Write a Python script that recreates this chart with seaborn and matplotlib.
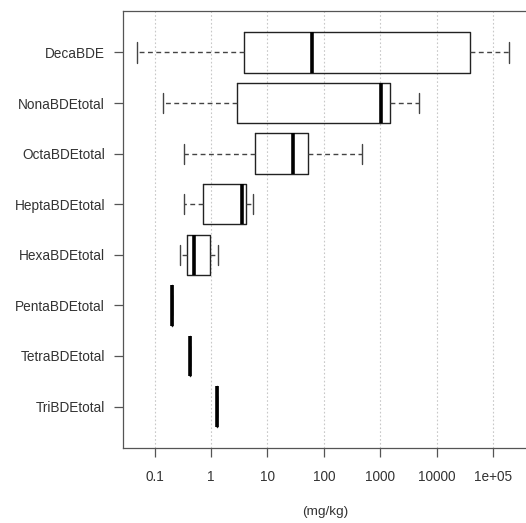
import numpy as np
import pandas as pd
import matplotlib
matplotlib.use("Agg")
import matplotlib.pyplot as plt
import seaborn as sns

categories = ["DecaBDE", "NonaBDEtotal", "OctaBDEtotal", "HeptaBDEtotal",
              "HexaBDEtotal", "PentaBDEtotal", "TetraBDEtotal", "TriBDEtotal"]
# min, Q1, median, Q3, max (mg/kg)
deca = [0.049, 3.9, 62, 38600, 190000]
nona = [0.139, 2.9, 1050, 1470, 4950]
octa = [0.33, 5.95, 28.8, 53, 475]
hepta = [0.33, 0.72, 3.6, 4.2, 5.5]
hexa = [0.28, 0.375, 0.505, 0.97, 1.33]
penta = [0.20]
tetra = [0.425]
tri = [1.29]
series = [deca, nona, octa, hepta, hexa, penta, tetra, tri]
xtick_vals = [0.1, 1, 10, 100, 1000, 10000, 100000]
xtick_labels = ["0.1", "1", "10", "100", "1000", "10000", "1e+05"]
xlabel = "(mg/kg)"

rows = []
for c, vals in zip(categories, series):
    for v in vals:
        rows.append({"cat": c, "value": v})
df = pd.DataFrame(rows)

sns.set_style("white")
plt.rcParams["font.family"] = ["Liberation Sans", "DejaVu Sans"]

W, H = 526, 523
fig = plt.figure(figsize=(W / 100, H / 100), dpi=100)
ax = fig.add_axes([123 / W, 1 - 448 / H, (527 - 123) / W, (448 - 11) / H])

ax.set_xscale("log")
for t in xtick_vals:
    ax.axvline(t, color="#c8c8c8", lw=0.8, ls=(0, (1.5, 2)), zorder=0)

sns.boxplot(data=df, x="value", y="cat", order=categories, whis=(0, 100),
            width=0.8, fill=False, color="#222222", linecolor="#222222",
            linewidth=1.0, ax=ax,
            medianprops=dict(color="black", linewidth=2.6),
            whiskerprops=dict(linestyle=(0, (3.5, 2.5)), color="#444444"),
            capprops=dict(color="#444444"),
            boxprops=dict(color="#222222"))

ax.set_xlim(10 ** -1.56, 10 ** 5.6)
ax.set_ylim(len(categories) - 0.5 + 0.32, -0.5 - 0.32)
ax.set_xticks(xtick_vals)
ax.set_xticklabels(xtick_labels)
ax.xaxis.set_minor_locator(matplotlib.ticker.NullLocator())
ax.set_xlabel(xlabel, fontsize=9.7, color="#333333", labelpad=16)
ax.set_ylabel("")
ax.tick_params(axis="both", which="major", direction="out", length=6.5,
               width=0.9, color="#555555", labelsize=9.8, labelcolor="#333333")
ax.tick_params(axis="x", pad=9)
ax.tick_params(axis="y", pad=6.5)
ax.tick_params(left=True, bottom=True)
for s in ax.spines.values():
    s.set_color("#555555")
    s.set_linewidth(0.9)
ax.spines["right"].set_visible(False)
ax.grid(False)

fig.savefig("out.png", dpi=100)
